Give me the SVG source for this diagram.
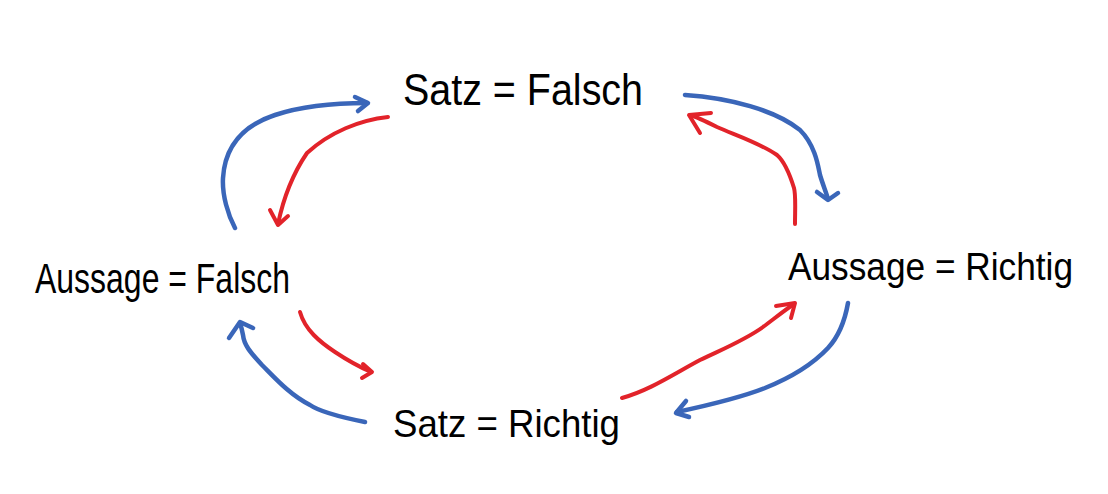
<svg xmlns="http://www.w3.org/2000/svg" width="1108" height="494" viewBox="0 0 1108 494">
<style>
.lbl{font-family:"Liberation Sans","DejaVu Sans",sans-serif;fill:#000;}
.b{fill:none;stroke:#3a66b9;stroke-width:4.5;stroke-linecap:round;stroke-linejoin:round;}
.r{fill:none;stroke:#e2232a;stroke-width:4;stroke-linecap:round;stroke-linejoin:round;}
</style>
<rect width="1108" height="494" fill="#fff"/>
<g id="connectors">
<path class="b" d="M235,228 C228,215 222,195 223,178 C225,145 245,125 275,115 C305,105 340,103 367,103"/>
<path class="b" d="M355,97 L368,103 L358,111"/>
<path class="r" d="M388,117 C360,120 330,132 307,153 C292,175 283,200 278,224"/>
<path class="r" d="M270,210 L278,225 L288,216"/>
<path class="b" d="M685,95 C730,98 775,110 800,130 C815,145 818,165 820,175 C823,185 826,192 828,199"/>
<path class="b" d="M817,192 L828,200 L838,193"/>
<path class="r" d="M795,224 C795,210 796,195 794,188 C790,175 785,162 777,155 C760,143 735,135 717,127 C705,121 697,117 690,115"/>
<path class="r" d="M711,113 L689,115 L700,133"/>
<path class="b" d="M365,422 C345,418 320,412 310,405 C290,395 275,378 262,365 C250,352 244,345 243,335 C242,330 241,326 240,323"/>
<path class="b" d="M229,338 L240,322 L253,328"/>
<path class="r" d="M300,312 C305,330 320,342 335,352 C350,362 362,368 371,372"/>
<path class="r" d="M363,364 L372,372 L362,378"/>
<path class="r" d="M622,398 C650,390 672,375 700,360 C725,348 745,340 763,327 C775,318 785,310 794,304"/>
<path class="r" d="M776,306 L795,303 L791,318"/>
<path class="b" d="M848,303 C845,320 840,335 828,348 C812,365 790,378 765,388 C740,398 705,406 677,412"/>
<path class="b" d="M686,401 L676,413 L689,417"/>
</g>
<g id="node-satz-falsch">
<text class="lbl" x="403" y="105" font-size="44" textLength="240" lengthAdjust="spacingAndGlyphs">Satz = Falsch</text>
</g>
<g id="node-aussage-falsch">
<text class="lbl" x="35" y="293" font-size="42" textLength="255" lengthAdjust="spacingAndGlyphs">Aussage = Falsch</text>
</g>
<g id="node-aussage-richtig">
<text class="lbl" x="788" y="280" font-size="38" textLength="285" lengthAdjust="spacingAndGlyphs">Aussage = Richtig</text>
</g>
<g id="node-satz-richtig">
<text class="lbl" x="393" y="437" font-size="39" textLength="227" lengthAdjust="spacingAndGlyphs">Satz = Richtig</text>
</g>
</svg>
